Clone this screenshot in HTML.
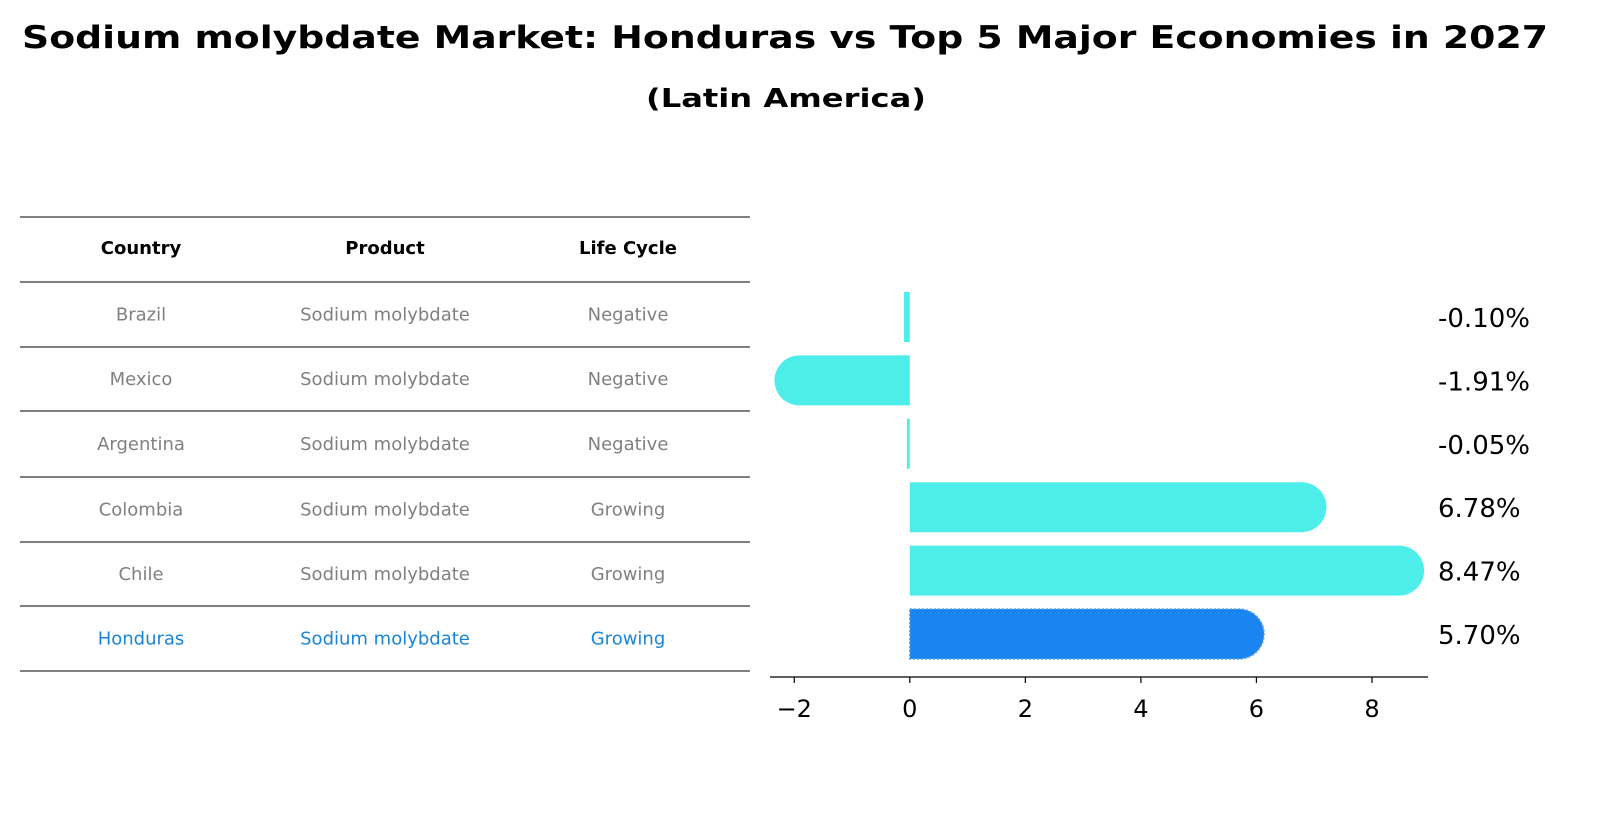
<!DOCTYPE html>
<html><head><meta charset="utf-8"><style>
body{margin:0;background:#fff;font-family:"Liberation Sans","DejaVu Sans",sans-serif}
</style></head><body>
<svg width="1612" height="823" xmlns="http://www.w3.org/2000/svg" font-family="DejaVu Sans, Liberation Sans, sans-serif">
<text x="785" y="48" text-anchor="middle" font-size="31" font-weight="bold" textLength="1526" lengthAdjust="spacingAndGlyphs">Sodium molybdate Market: Honduras vs Top 5 Major Economies in 2027</text>
<text x="786" y="107" text-anchor="middle" font-size="26" font-weight="bold" textLength="280" lengthAdjust="spacingAndGlyphs">(Latin America)</text>
<g id="table"></g>
<g id="bars"></g>
</svg>
<script>
const countries=["Brazil","Mexico","Argentina","Colombia","Chile","Honduras"];
const products=["Sodium molybdate","Sodium molybdate","Sodium molybdate","Sodium molybdate","Sodium molybdate","Sodium molybdate"];
const lifeCycle=["Negative","Negative","Negative","Growing","Growing","Growing"];
const values=[-0.10,-1.91,-0.05,6.78,8.47,5.70];
const ticks=[-2,0,2,4,6,8];
const NS="http://www.w3.org/2000/svg";
function mk(tag,attrs,parent,text){const e=document.createElementNS(NS,tag);for(const k in attrs)e.setAttribute(k,attrs[k]);if(text!==undefined)e.textContent=text;parent.appendChild(e);return e;}
const tbl=document.getElementById('table');
const lineYs=[217,282,347,411,477,542,606,671];
lineYs.forEach(y=>{const l=mk('line',{x1:20,x2:750,y1:y,y2:y,stroke:'#000','stroke-width':1},tbl);

});
const colX=[141,385,628];
["Country","Product","Life Cycle"].forEach((h,i)=>{const t=mk('text',{x:colX[i],y:254,'text-anchor':'middle','font-size':18,'font-weight':'bold'},tbl,h);

});
countries.forEach((c,r)=>{const y=(lineYs[r+1]+lineYs[r+2])/2+6;const col=c==="Honduras"?"#1a85d6":"#808080";
[c,products[r],lifeCycle[r]].forEach((v,i)=>{const t=mk('text',{x:colX[i],y:y,'text-anchor':'middle','font-size':18,fill:col},tbl,v);

});});
const g=document.getElementById('bars');
const xmin=-2.42,xmax=8.97,px0=770,px1=1428;
const X=v=>px0+(v-xmin)/(xmax-xmin)*(px1-px0);
const rowY=i=>317+i*63.4;
const bh=50,cap=25;
values.forEach((v,i)=>{const x0=X(0),x1=X(v),yc=rowY(i),w=Math.abs(x1-x0);const hond=countries[i]==="Honduras";
const fill=hond?"#1a85f0":"#4deeea";let d;
if(w>cap){const s=v>=0?1:-1;const xe=x1;
d=`M${x0},${yc-bh/2} L${xe},${yc-bh/2} A${cap},${cap} 0 0 ${s>0?1:0} ${xe},${yc+bh/2} L${x0},${yc+bh/2} Z`;}
else{const a=Math.min(x0,x1);d=`M${a},${yc-bh/2} h${Math.max(w,1.5)} v${bh} h${-Math.max(w,1.5)} Z`;}
const p=mk('path',{d:d,fill:fill},g);
if(hond){p.setAttribute('stroke','#5aa0e0');p.setAttribute('stroke-dasharray','2,2');p.setAttribute('stroke-width','1.5');}


const t=mk('text',{x:1438,y:yc+10,'font-size':26},g,v.toFixed(2)+'%');

});
const ax=mk('line',{x1:px0,x2:px1,y1:677,y2:677,stroke:'#000','stroke-width':1.3},g);


ticks.forEach(t=>{const x=X(t);const tk=mk('line',{x1:x,x2:x,y1:677,y2:683,stroke:'#000','stroke-width':1.2},g);


const lb=mk('text',{x:x,y:717,'text-anchor':'middle','font-size':24},g,t<0?'\u2212'+Math.abs(t):String(t));

});
</script>
</body></html>
